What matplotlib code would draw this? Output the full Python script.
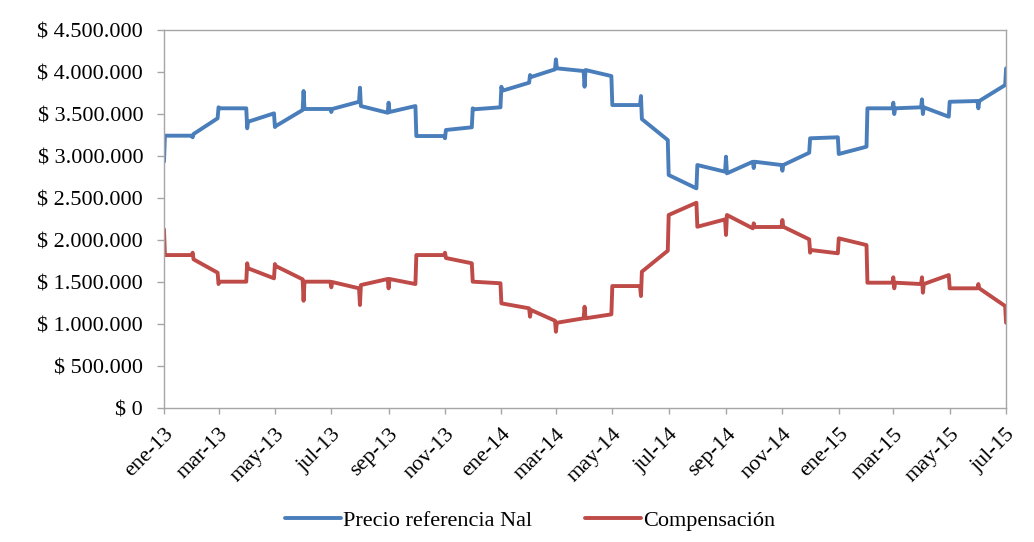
import pandas as pd
import matplotlib.pyplot as plt
import matplotlib.dates as mdates
from matplotlib.ticker import FuncFormatter

plt.rcParams['font.family'] = ['Liberation Serif', 'DejaVu Serif']

# meses del periodo (inicio de cada mes)
meses = pd.date_range("2013-01-01", "2015-07-01", freq="MS")

# valores al inicio de cada mes (dia 1, dia 2, ...) y al ultimo dia del mes
precio_ini = [
    [2932000, 3242000], [3223000, 3262000], [3580000, 3568000], [3330000, 3408000],
    [3345000, 3357000], [3774000, 3560000], [3524000, 3560000], [3813000, 3595000],
    [3635000, 3524000], [3238000], [3211000, 3310000], [3568000, 3556000],
    [3825000, 3777000], [3964000, 3940000], [4151000, 4044000], [3825000, 4024000],
    [3607000], [3714000, 3440000], [2774000], [2893000],
    [2992000, 2794000], [2857000, 2932000], [2825000, 2893000], [3211000],
    [3024000], [3568000], [3635000, 3500000, 3568000], [3675000, 3500000, 3580000],
    [3646000], [3568000, 3655000], [4044000],
]
precio_fin = [
    3242000, 3449000, 3568000, 3508000, 3548000, 3560000, 3646000, 3515000,
    3595000, 3238000, 3342000, 3580000, 3873000, 4032000, 4012000, 3952000,
    3607000, 3190000, 2615000, 2813000, 2932000, 2893000, 3039000, 3223000,
    3111000, 3568000, 3580000, 3468000, 3655000, 3845000,
]

comp_ini = [
    [2127000, 1821000], [1849000, 1770000], [1476000, 1504000], [1723000, 1663000],
    [1714000, 1690000], [1277000, 1504000], [1437000, 1500000], [1226000, 1464000],
    [1425000, 1536000], [1821000], [1849000, 1786000], [1504000],
    [1246000], [1087000, 1167000], [908000, 1015000], [1206000, 1068000],
    [1452000], [1333000, 1623000], [2298000], [2158000],
    [2060000, 2298000], [2199000, 2155000], [2238000, 2158000], [1849000, 1881000],
    [2020000], [1492000], [1556000, 1425000, 1492000], [1556000, 1373000, 1476000],
    [1425000], [1476000, 1425000], [1015000],
]
comp_fin = [
    1821000, 1611000, 1504000, 1544000, 1532000, 1504000, 1425000, 1536000,
    1476000, 1821000, 1723000, 1485000, 1187000, 1039000, 1068000, 1115000,
    1452000, 1873000, 2444000, 2246000, 2139000, 2155000, 2008000, 1842000,
    1940000, 1492000, 1476000, 1583000, 1425000, 1214000,
]

etiquetas_x = ["ene-13", "mar-13", "may-13", "jul-13", "sep-13", "nov-13",
               "ene-14", "mar-14", "may-14", "jul-14", "sep-14", "nov-14",
               "ene-15", "mar-15", "may-15", "jul-15"]


def armar_serie(ini, fin):
    fechas, valores = [], []
    for i, mes in enumerate(meses):
        for k, v in enumerate(ini[i]):
            fechas.append(mes + pd.Timedelta(days=k))
            valores.append(v)
        if i < len(fin):
            fechas.append(mes + pd.offsets.MonthEnd(0))
            valores.append(fin[i])
    return fechas, valores


fig = plt.figure(figsize=(10.34, 5.42), dpi=100)
ax = fig.add_axes([0.1586, 0.2472, 0.8144, 0.6974])

f1, v1 = armar_serie(precio_ini, precio_fin)
f2, v2 = armar_serie(comp_ini, comp_fin)
ax.plot(f1, v1, color="#4A7EBB", lw=2.8, solid_joinstyle="round",
        solid_capstyle="round", label="Precio referencia Nal")
ax.plot(f2, v2, color="#BE4B48", lw=2.8, solid_joinstyle="round",
        solid_capstyle="round", label="Compensación")

ax.set_xlim(meses[0], meses[-1])
ax.set_ylim(0, 4500000)
ax.set_yticks(range(0, 4500001, 500000))
ax.yaxis.set_major_formatter(FuncFormatter(lambda v, p: "$ " + f"{v:,.0f}".replace(",", ".")))

ax.set_xticks(meses[::2])
ax.set_xticklabels(etiquetas_x, rotation=45, ha="right", rotation_mode="anchor")

for s in ax.spines.values():
    s.set_color("#A6A6A6")
    s.set_linewidth(1)
ax.tick_params(axis="both", colors="#A6A6A6", labelcolor="black", labelsize=16,
               width=1, direction="out")
ax.tick_params(axis="x", length=4, pad=8)
ax.tick_params(axis="y", length=5, pad=10)

fig.legend(loc="center", bbox_to_anchor=(0.5126, 0.039), ncol=2, frameon=False,
           fontsize=16, handlelength=2.5, handletextpad=0.1, columnspacing=2.4)

fig.savefig("out.png", dpi=100)
